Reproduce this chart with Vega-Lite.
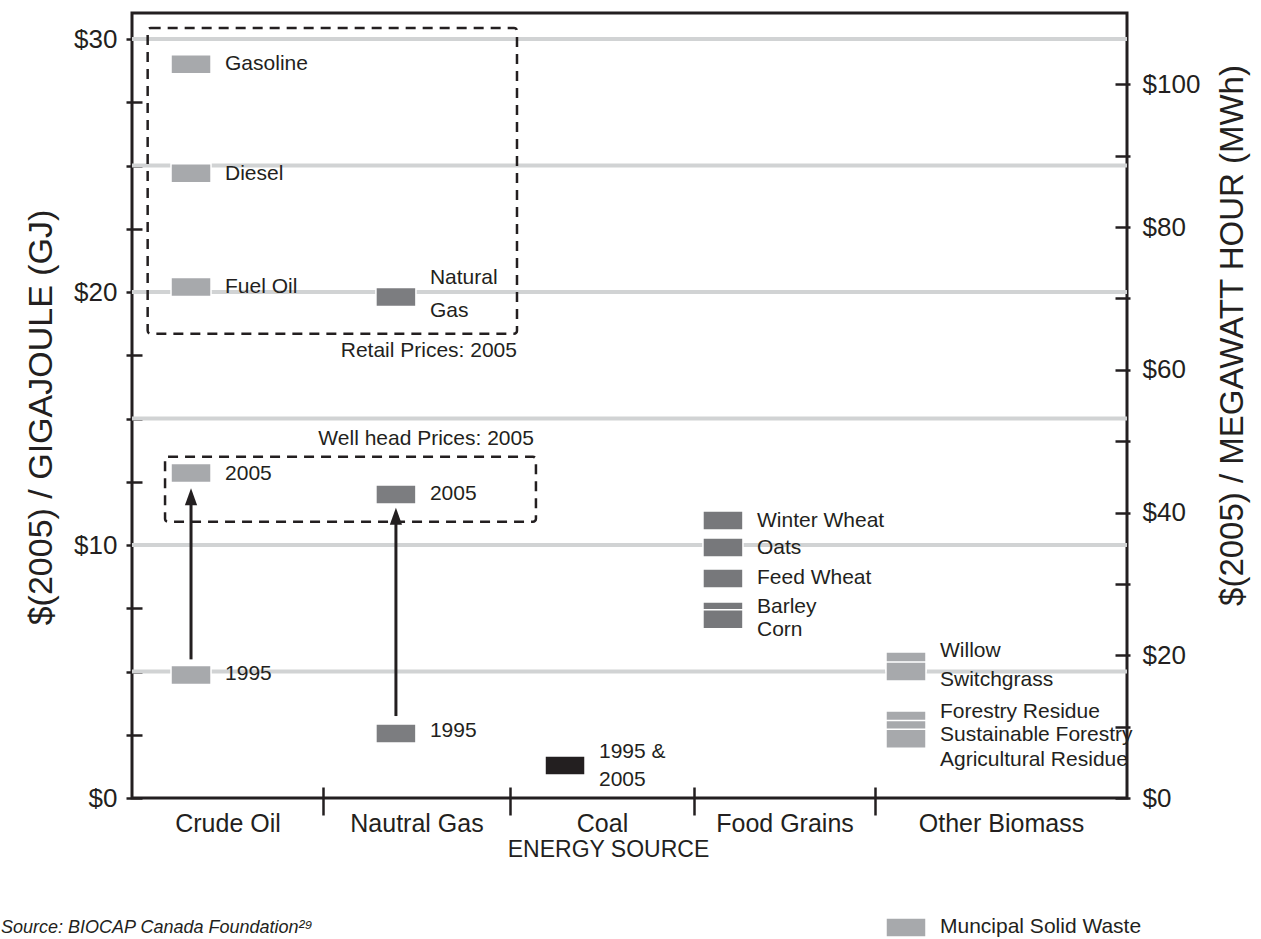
{
  "$schema": "https://vega.github.io/schema/vega-lite/v6.json",
  "width": 995,
  "height": 785,
  "autosize": {"type": "none"},
  "padding": {"left": 132, "top": 13, "right": 134, "bottom": 141},
  "background": "white",
  "title": {
    "text": "Source: BIOCAP Canada Foundation²⁹",
    "orient": "bottom",
    "anchor": "start",
    "frame": "group",
    "dx": -131,
    "offset": -21,
    "fontSize": 18,
    "fontStyle": "italic",
    "fontWeight": "normal",
    "font": "Liberation Sans",
    "color": "#231f20"
  },
  "datasets": {
    "grid": [{"usd": 5}, {"usd": 10}, {"usd": 15}, {"usd": 20}, {"usd": 25}, {"usd": 30}],
    "boxes": [
      {"box": "Retail Prices: 2005", "x0": 0.082, "x1": 2.038, "y0": 30.44, "y1": 18.35},
      {"box": "Well head Prices: 2005", "x0": 0.173, "x1": 2.141, "y0": 13.49, "y1": 10.92}
    ],
    "boxLabels": [
      {"label": "Retail Prices: 2005", "x": 2.038, "usd": 17.67},
      {"label": "Well head Prices: 2005", "x": 2.13, "usd": 14.21}
    ],
    "arrows": [
      {"series": "Crude Oil", "x": 0.309, "from": 5.48, "to": 11.91},
      {"series": "Natural Gas", "x": 1.39, "from": 3.24, "to": 11.14}
    ],
    "markers": [
      {"item": "Gasoline", "kind": "crude", "x": 0.309, "usd": 29.0},
      {"item": "Diesel", "kind": "crude", "x": 0.309, "usd": 24.7},
      {"item": "Fuel Oil", "kind": "crude", "x": 0.309, "usd": 20.2},
      {"item": "Natural Gas (retail)", "kind": "gas", "x": 1.39, "usd": 19.8},
      {"item": "Crude Oil 2005", "kind": "crude", "x": 0.309, "usd": 12.85},
      {"item": "Crude Oil 1995", "kind": "crude", "x": 0.309, "usd": 4.86},
      {"item": "Natural Gas 2005", "kind": "gas", "x": 1.39, "usd": 12.0},
      {"item": "Natural Gas 1995", "kind": "gas", "x": 1.39, "usd": 2.55},
      {"item": "Coal 1995 & 2005", "kind": "coal", "x": 2.299, "usd": 1.28},
      {"item": "Winter Wheat", "kind": "grain", "x": 3.16, "usd": 10.97},
      {"item": "Oats", "kind": "grain", "x": 3.16, "usd": 9.9},
      {"item": "Feed Wheat", "kind": "grain", "x": 3.16, "usd": 8.68},
      {"item": "Barley", "kind": "grain", "x": 3.16, "usd": 7.37},
      {"item": "Corn", "kind": "grain", "x": 3.16, "usd": 7.07},
      {"item": "Willow", "kind": "biomass", "x": 4.123, "usd": 5.4},
      {"item": "Switchgrass", "kind": "biomass", "x": 4.123, "usd": 5.0},
      {"item": "Forestry Residue", "kind": "biomass", "x": 4.123, "usd": 3.06},
      {"item": "Sustainable Forestry", "kind": "biomass", "x": 4.123, "usd": 2.69},
      {"item": "Agricultural Residue", "kind": "biomass", "x": 4.123, "usd": 2.34},
      {"item": "Muncipal Solid Waste", "kind": "biomass", "x": 4.123, "usd": -5.12}
    ],
    "labels": [
      {"text": "Gasoline", "x": 0.309, "usd": 29.0},
      {"text": "Diesel", "x": 0.309, "usd": 24.68},
      {"text": "Fuel Oil", "x": 0.309, "usd": 20.2},
      {"text": "2005", "x": 0.309, "usd": 12.79},
      {"text": "1995", "x": 0.309, "usd": 4.9},
      {"text": "Natural", "x": 1.39, "usd": 20.55},
      {"text": "Gas", "x": 1.39, "usd": 19.25},
      {"text": "2005", "x": 1.39, "usd": 12.02},
      {"text": "1995", "x": 1.39, "usd": 2.65},
      {"text": "1995 &", "x": 2.299, "usd": 1.82},
      {"text": "2005", "x": 2.299, "usd": 0.71},
      {"text": "Winter Wheat", "x": 3.16, "usd": 10.95},
      {"text": "Oats", "x": 3.16, "usd": 9.9},
      {"text": "Feed Wheat", "x": 3.16, "usd": 8.68},
      {"text": "Barley", "x": 3.16, "usd": 7.55},
      {"text": "Corn", "x": 3.16, "usd": 6.66},
      {"text": "Willow", "x": 4.123, "usd": 5.81},
      {"text": "Switchgrass", "x": 4.123, "usd": 4.66},
      {"text": "Forestry Residue", "x": 4.123, "usd": 3.4},
      {"text": "Sustainable Forestry", "x": 4.123, "usd": 2.51},
      {"text": "Agricultural Residue", "x": 4.123, "usd": 1.52},
      {"text": "Muncipal Solid Waste", "x": 4.123, "usd": -5.1}
    ],
    "mwhAxis": [{"mwh": 0}, {"mwh": 100}]
  },
  "layer": [
    {
      "layer": [
        {
          "data": {"name": "grid"},
          "mark": {"type": "rule", "color": "#d1d3d4", "strokeWidth": 4},
          "encoding": {
            "y": {
              "field": "usd", "type": "quantitative",
              "scale": {"domain": [0, 31.03], "nice": false, "zero": false},
              "axis": {
                "orient": "left",
                "values": [0, 2.5, 5, 7.5, 10, 12.5, 15, 17.5, 20, 22.5, 25, 27.5, 30],
                "labelExpr": "datum.value % 10 == 0 ? '$' + datum.value : ''",
                "domain": false, "grid": false,
                "offset": -10, "tickSize": 16, "tickWidth": 2.5,
                "labelPadding": 9, "labelFontSize": 26, "labelFlush": false, "labelOverlap": false,
                "title": "$(2005) / GIGAJOULE (GJ)",
                "titleAngle": 270, "titleX": -101, "titleY": 404,
                "titleAlign": "center", "titleBaseline": "middle", "titleFontSize": 34
              }
            }
          }
        },
        {
          "data": {"name": "boxes"},
          "mark": {"type": "rect", "fill": "transparent", "stroke": "#231f20", "strokeWidth": 2.5, "strokeDash": [10, 7], "cornerRadius": 3},
          "encoding": {
            "x": {"field": "x0", "type": "quantitative", "scale": {"domain": [0, 1, 2, 3, 4, 5], "range": [0, 191, 378, 562, 743, 995], "nice": false, "zero": false}},
            "x2": {"field": "x1"},
            "y": {"field": "y0", "type": "quantitative", "scale": {"domain": [0, 31.03], "nice": false, "zero": false}},
            "y2": {"field": "y1"}
          }
        },
        {
          "data": {"name": "boxLabels"},
          "mark": {"type": "text", "align": "right", "baseline": "middle", "fontSize": 21, "color": "#231f20"},
          "encoding": {
            "x": {"field": "x", "type": "quantitative", "scale": {"domain": [0, 1, 2, 3, 4, 5], "range": [0, 191, 378, 562, 743, 995], "nice": false, "zero": false}},
            "y": {"field": "usd", "type": "quantitative", "scale": {"domain": [0, 31.03], "nice": false, "zero": false}},
            "text": {"field": "label"}
          }
        },
        {
          "data": {"name": "arrows"},
          "mark": {"type": "rule", "color": "#231f20", "strokeWidth": 3},
          "encoding": {
            "x": {"field": "x", "type": "quantitative", "scale": {"domain": [0, 1, 2, 3, 4, 5], "range": [0, 191, 378, 562, 743, 995], "nice": false, "zero": false}},
            "y": {"field": "from", "type": "quantitative", "scale": {"domain": [0, 31.03], "nice": false, "zero": false}},
            "y2": {"field": "to"}
          }
        },
        {
          "data": {"name": "arrows"},
          "mark": {"type": "point", "shape": "M0,-1L0.72,1L-0.72,1Z", "size": 289, "filled": true, "opacity": 1, "color": "#231f20"},
          "encoding": {
            "x": {"field": "x", "type": "quantitative", "scale": {"domain": [0, 1, 2, 3, 4, 5], "range": [0, 191, 378, 562, 743, 995], "nice": false, "zero": false}},
            "y": {"field": "to", "type": "quantitative", "scale": {"domain": [0, 31.03], "nice": false, "zero": false}}
          }
        },
        {
          "data": {"name": "markers"},
          "mark": {"type": "point", "shape": "M-1,-0.475L1,-0.475L1,0.475L-1,0.475Z", "size": 1600, "filled": true, "opacity": 1, "stroke": "white", "strokeWidth": 1.5},
          "encoding": {
            "x": {
              "field": "x", "type": "quantitative",
              "scale": {"domain": [0, 1, 2, 3, 4, 5], "range": [0, 191, 378, 562, 743, 995], "nice": false, "zero": false},
              "axis": {
                "orient": "bottom",
                "values": [0.5, 1, 1.5, 2, 2.5, 3, 3.5, 4, 4.5],
                "labelExpr": "datum.value == 0.5 ? 'Crude Oil' : datum.value == 1.5 ? 'Nautral Gas' : datum.value == 2.5 ? 'Coal' : datum.value == 3.5 ? 'Food Grains' : datum.value == 4.5 ? 'Other Biomass' : ''",
                "tickOpacity": {"condition": {"test": "datum.value % 1 != 0", "value": 0}, "value": 1},
                "domain": false, "grid": false,
                "offset": -11, "tickSize": 28, "tickWidth": 2.5,
                "labelPadding": -4, "labelFontSize": 25, "labelFlush": false, "labelOverlap": false, "labelBound": false,
                "title": "ENERGY SOURCE",
                "titleX": 476, "titleY": 62, "titleAlign": "center", "titleBaseline": "middle", "titleFontSize": 23
              }
            },
            "y": {"field": "usd", "type": "quantitative", "scale": {"domain": [0, 31.03], "nice": false, "zero": false}},
            "color": {
              "field": "kind", "type": "nominal",
              "scale": {"domain": ["crude", "gas", "coal", "grain", "biomass"], "range": ["#a7a9ac", "#7c7d80", "#231f20", "#77787b", "#a7a9ac"]},
              "legend": null
            }
          }
        },
        {
          "data": {"name": "labels"},
          "mark": {"type": "text", "align": "left", "baseline": "middle", "dx": 34, "fontSize": 21, "color": "#231f20"},
          "encoding": {
            "x": {"field": "x", "type": "quantitative", "scale": {"domain": [0, 1, 2, 3, 4, 5], "range": [0, 191, 378, 562, 743, 995], "nice": false, "zero": false}},
            "y": {"field": "usd", "type": "quantitative", "scale": {"domain": [0, 31.03], "nice": false, "zero": false}},
            "text": {"field": "text"}
          }
        }
      ]
    },
    {
      "data": {"name": "mwhAxis"},
      "mark": {"type": "rule", "opacity": 0},
      "encoding": {
        "y": {
          "field": "mwh", "type": "quantitative",
          "scale": {"domain": [0, 110], "nice": false, "zero": false},
          "axis": {
            "orient": "right",
            "values": [0, 10, 20, 30, 40, 50, 60, 70, 80, 90, 100],
            "labelExpr": "datum.value % 20 == 0 ? '$' + datum.value : ''",
            "domain": false, "grid": false,
            "offset": -12, "tickSize": 15, "tickWidth": 2.5,
            "labelPadding": 12, "labelFontSize": 26, "labelFlush": false, "labelOverlap": false,
            "title": "$(2005) / MEGAWATT HOUR (MWh)",
            "titleAngle": 270, "titleX": 117, "titleY": 322,
            "titleAlign": "center", "titleBaseline": "middle", "titleFontSize": 33
          }
        }
      }
    }
  ],
  "resolve": {"scale": {"y": "independent"}, "axis": {"y": "independent"}},
  "config": {
    "font": "Liberation Sans",
    "view": {"stroke": "#231f20", "strokeWidth": 3},
    "axis": {
      "labelFont": "Liberation Sans", "titleFont": "Liberation Sans",
      "labelColor": "#231f20", "titleColor": "#231f20", "tickColor": "#231f20",
      "titleFontWeight": "normal"
    }
  }
}
